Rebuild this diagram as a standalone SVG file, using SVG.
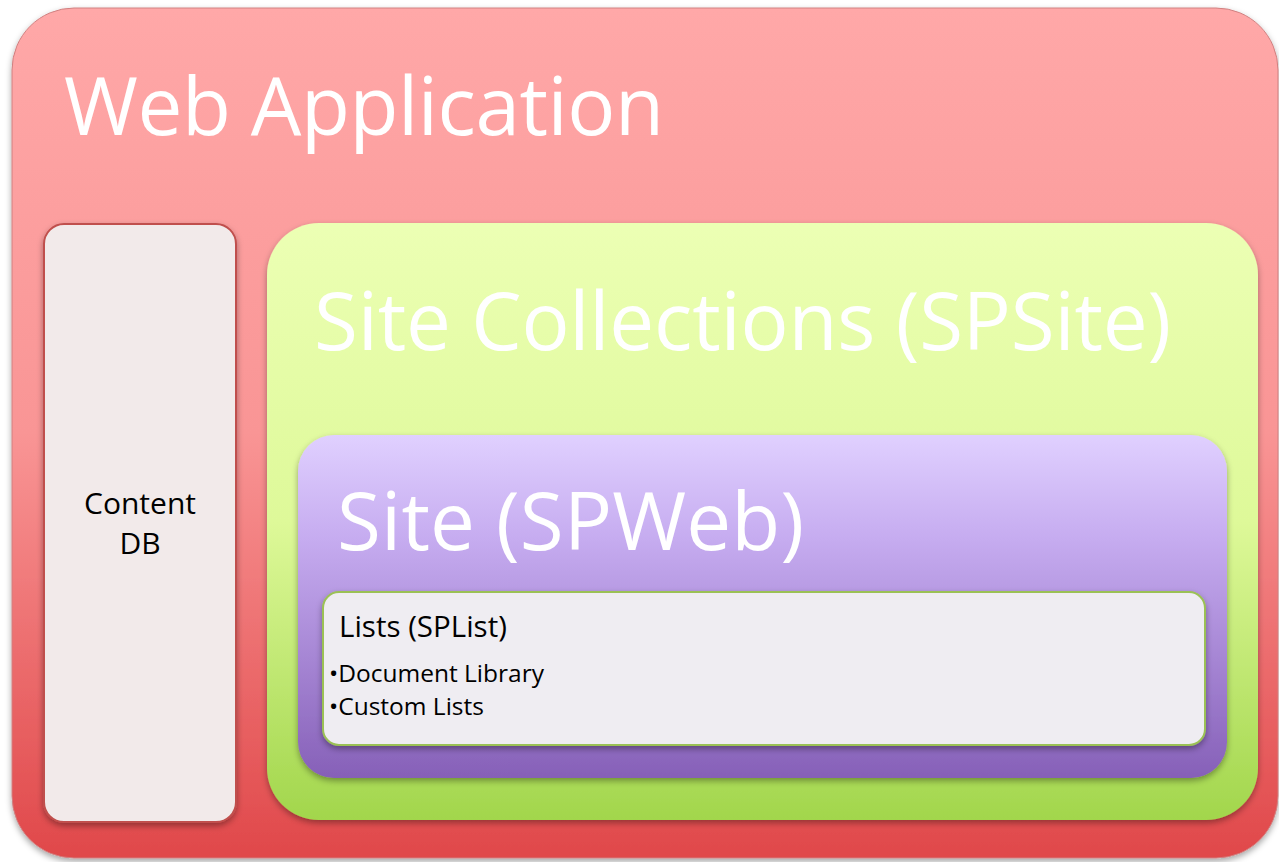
<svg xmlns="http://www.w3.org/2000/svg" width="1279" height="862" viewBox="0 0 1279 862">
<style>
.big{font-family:"Open Sans","Liberation Sans",sans-serif;fill:#ffffff}
.sm{font-family:"Open Sans","Liberation Sans",sans-serif;fill:#000000}
</style>
<defs>
<linearGradient id="gRed" x1="0" y1="0" x2="0" y2="1">
<stop offset="0" stop-color="#ffa8a8"/><stop offset="0.5" stop-color="#f99595"/><stop offset="1" stop-color="#e0484a"/>
</linearGradient>
<linearGradient id="gGreen" x1="0" y1="0" x2="0" y2="1">
<stop offset="0" stop-color="#ecffb4"/><stop offset="0.5" stop-color="#def999"/><stop offset="1" stop-color="#a2d64c"/>
</linearGradient>
<linearGradient id="gPurple" x1="0" y1="0" x2="0" y2="1">
<stop offset="0" stop-color="#e0d0ff"/><stop offset="0.3" stop-color="#c6acf0"/><stop offset="1" stop-color="#8660b8"/>
</linearGradient>
<filter id="sh" x="-5%" y="-5%" width="110%" height="115%">
<feDropShadow dx="0" dy="3" stdDeviation="3" flood-color="#000" flood-opacity="0.35"/>
</filter>
</defs>
<rect width="1279" height="862" fill="#ffffff"/>
<g id="webapp">
<rect x="12" y="8" width="1266" height="850" rx="62" fill="url(#gRed)" stroke="#d08080" stroke-width="1" filter="url(#sh)"/>
<text class="big" x="64" y="135" font-size="80" textLength="600">Web Application</text>
</g>
<g id="contentdb">
<rect x="44" y="224" width="192" height="598" rx="20" fill="#f2eaea" stroke="#c0504d" stroke-width="2" filter="url(#sh)"/>
<text class="sm" x="140" y="514" font-size="30" text-anchor="middle">Content</text>
<text class="sm" x="140" y="554" font-size="30" text-anchor="middle">DB</text>
</g>
<g id="sitecollections">
<rect x="267" y="223" width="991" height="597" rx="52" fill="url(#gGreen)" filter="url(#sh)"/>
<text class="big" x="314" y="350" font-size="80" textLength="857">Site Collections (SPSite)</text>
</g>
<g id="site">
<rect x="298" y="435" width="929" height="343" rx="36" fill="url(#gPurple)" filter="url(#sh)"/>
<text class="big" x="337" y="550" font-size="80" textLength="467">Site (SPWeb)</text>
</g>
<g id="lists">
<rect x="323" y="592" width="882" height="153" rx="16" fill="#efedf2" stroke="#9bc155" stroke-width="2" filter="url(#sh)"/>
<text class="sm" x="339" y="637" font-size="29.5">Lists (SPList)</text>
<text class="sm" x="329" y="682" font-size="24.5">•Document Library</text>
<text class="sm" x="329" y="715" font-size="24.5">•Custom Lists</text>
</g>
<g id="connectors"/>
</svg>
